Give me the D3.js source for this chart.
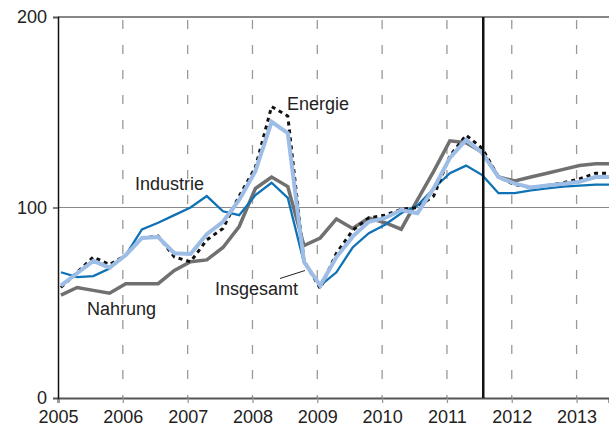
<!DOCTYPE html>
<html>
<head>
<meta charset="utf-8">
<script src="https://cdn.jsdelivr.net/npm/d3@7"></script>
<style>
  body { margin: 0; background: #fff; }
  text { font-family: "Liberation Sans", Arial, Helvetica, sans-serif; fill: #222; }
</style>
</head>
<body>
<div class="chart"></div>
<script>
var svgWidth = 609;
var svgHeight = 426;

var margin = { top: 17, right: 0, bottom: 28, left: 58 };
var width = svgWidth - margin.left - margin.right;
var height = svgHeight - margin.top - margin.bottom;

// quarterly index values, starting Q1 2005
var startYear = 2005;
var nahrung = [54, 58, 56.5, 55, 60, 60, 60, 67, 71.5, 72.5, 79, 90, 110, 116, 111, 80,
    84, 94, 89, 94.5, 92, 88.6, 104, 119, 135, 134, 129, 116, 114, 116, 118, 120, 122, 123, 123];
var industrie = [66, 63.5, 64, 68, 75, 88.5, 92, 96, 100, 106, 98, 96, 106.5, 113, 105, 71,
    59, 66, 79, 86.5, 91, 97, 101, 110, 118, 122, 117, 107.5, 107.5, 109, 110, 111, 111.5, 112, 112];
var energie = [58, 66, 74, 70, 75, 84, 85, 74, 71.5, 83, 89, 106, 121, 153, 148, 72,
    57.5, 76, 88, 94.5, 96, 99, 100, 106, 127, 138, 131, 116, 112, 110.5, 111.5, 113, 115, 118, 118];
var insgesamt = [59, 65.5, 72, 68.4, 75, 84, 84.5, 76, 75.6, 86, 92.5, 104, 119, 145, 139, 71.5,
    59, 74, 84.7, 92.5, 94.5, 98.7, 97, 110, 126, 135.5, 128.6, 116, 112.5, 110.5, 111.5, 112.5, 113.5, 116, 116];

var yearTicks = [2005, 2006, 2007, 2008, 2009, 2010, 2011, 2012, 2013];
var valueTicks = [0, 100, 200];
var forecastStart = 2011.56;

var svg = d3.select(".chart")
    .append("svg")
    .attr("width", svgWidth)
    .attr("height", svgHeight);

var chartGroup = svg.append("g")
    .attr("transform", `translate(${margin.left}, ${margin.top})`);

var xScale = d3.scaleLinear().domain([2005, 2013.5]).range([0, width]);
var yScale = d3.scaleLinear().domain([0, 200]).range([height, 0]);

chartGroup.append("clipPath")
    .attr("id", "plotclip")
    .append("rect")
    .attr("x", 0).attr("y", -5)
    .attr("width", width).attr("height", height + 5);

// dashed vertical year grid
chartGroup.selectAll(".vgrid")
    .data(yearTicks.slice(1))
    .enter()
    .append("line")
    .attr("x1", d => xScale(d)).attr("x2", d => xScale(d))
    .attr("y1", 0).attr("y2", height)
    .attr("stroke", "#999")
    .attr("stroke-width", 1.3)
    .attr("stroke-dasharray", "9,16")
    .attr("stroke-dashoffset", -3);

// gridline at 100
chartGroup.append("line")
    .attr("x1", 0).attr("x2", width)
    .attr("y1", yScale(100)).attr("y2", yScale(100))
    .attr("stroke", "#8a8a8a")
    .attr("stroke-width", 1.2);

// top frame line
chartGroup.append("line")
    .attr("x1", 0).attr("x2", width)
    .attr("y1", 0).attr("y2", 0)
    .attr("stroke", "#111")
    .attr("stroke-width", 1.2);

// x axis
var bottomAxis = d3.axisBottom(xScale)
    .tickValues(yearTicks)
    .tickFormat(d3.format("d"))
    .tickSize(5)
    .tickPadding(7);

var xAxis = chartGroup.append("g")
    .attr("transform", `translate(0, ${height})`)
    .call(bottomAxis);
xAxis.select(".domain").attr("stroke", "#555").attr("stroke-width", 2.2);
xAxis.selectAll(".tick line").attr("stroke", "#999").attr("stroke-width", 1.3);
xAxis.selectAll(".tick text")
    .attr("font-size", 18)
    .attr("fill", "#222")
    .style("font-family", "Liberation Sans, Arial, sans-serif");

// y axis
var leftAxis = d3.axisLeft(yScale)
    .tickValues(valueTicks)
    .tickSize(5)
    .tickPadding(6);

var yAxis = chartGroup.append("g").call(leftAxis);
yAxis.select(".domain").attr("stroke", "#111").attr("stroke-width", 1.5);
yAxis.selectAll(".tick line").attr("stroke", "#555").attr("stroke-width", 1.5);
yAxis.selectAll(".tick text")
    .attr("font-size", 18)
    .attr("fill", "#222")
    .style("font-family", "Liberation Sans, Arial, sans-serif");

// series lines
function quarterX(i) {
    return xScale(startYear + i / 4 + 0.045);
}

var line = d3.line()
    .x((d, i) => quarterX(i))
    .y(d => yScale(d));

var linesGroup = chartGroup.append("g").attr("clip-path", "url(#plotclip)");

linesGroup.append("path")
    .datum(nahrung)
    .attr("d", line)
    .attr("fill", "none")
    .attr("stroke", "#707070")
    .attr("stroke-width", 3.5);

linesGroup.append("path")
    .datum(industrie)
    .attr("d", line)
    .attr("fill", "none")
    .attr("stroke", "#0f72b5")
    .attr("stroke-width", 2.3);

linesGroup.append("path")
    .datum(energie)
    .attr("d", line)
    .attr("fill", "none")
    .attr("stroke", "#111")
    .attr("stroke-width", 3)
    .attr("stroke-dasharray", "4,4");

linesGroup.append("path")
    .datum(insgesamt)
    .attr("d", line)
    .attr("fill", "none")
    .attr("stroke", "#9dbde6")
    .attr("stroke-width", 4);

// forecast divider
chartGroup.append("line")
    .attr("x1", xScale(forecastStart)).attr("x2", xScale(forecastStart))
    .attr("y1", 0).attr("y2", height)
    .attr("stroke", "#111")
    .attr("stroke-width", 2.5);

// series labels
var labels = [
    { text: "Energie", x: 287, y: 110 },
    { text: "Industrie", x: 135, y: 190 },
    { text: "Insgesamt", x: 215, y: 295 },
    { text: "Nahrung", x: 87, y: 315 }
];

svg.selectAll(".label")
    .data(labels)
    .enter()
    .append("text")
    .attr("x", d => d.x)
    .attr("y", d => d.y)
    .attr("font-size", 18)
    .text(d => d.text);

// leader for Insgesamt
svg.append("line")
    .attr("x1", 280).attr("y1", 278.5)
    .attr("x2", 305).attr("y2", 270.5)
    .attr("stroke", "#222")
    .attr("stroke-width", 1);
</script>
</body>
</html>
